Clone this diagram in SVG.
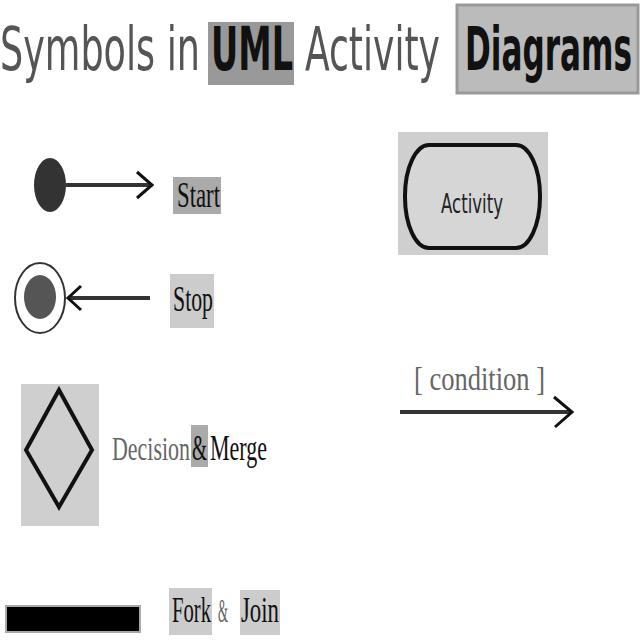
<svg xmlns="http://www.w3.org/2000/svg" width="640" height="640" viewBox="0 0 640 640">
<style>
.title{font-family:"DejaVu Sans Condensed","DejaVu Sans",sans-serif;font-size:60px;fill:#555}
.titleb{font-family:"DejaVu Sans Condensed","DejaVu Sans",sans-serif;font-size:60px;font-weight:bold;fill:#111}
.lbl{font-family:"Liberation Serif",serif;font-size:36px;fill:#111}
.lblg{font-family:"Liberation Serif",serif;font-size:34px;fill:#666}
.hl{fill:#aaa}
.panel{fill:#cfcfcf}
.conn{stroke:#333;stroke-width:4;fill:none}
.head{stroke:#111;stroke-width:3;fill:none}
</style>
<rect width="640" height="640" fill="#fff"/>
<g id="title">
  <text class="title" x="0" y="70" textLength="200" lengthAdjust="spacingAndGlyphs">Symbols in</text>
  <rect x="208" y="22" width="86" height="63" fill="#999"/>
  <text class="titleb" x="211" y="70" textLength="82" lengthAdjust="spacingAndGlyphs">UML</text>
  <text class="title" x="305" y="70" textLength="135" lengthAdjust="spacingAndGlyphs">Activity</text>
  <rect x="457" y="5" width="181" height="88" fill="#bbb" stroke="#999" stroke-width="3"/>
  <text class="titleb" x="465" y="70" textLength="167" lengthAdjust="spacingAndGlyphs">Diagrams</text>
</g>
<g id="start">
  <ellipse cx="50" cy="185" rx="16" ry="27" fill="#333"/>
  <rect x="173" y="177" width="48" height="37" class="hl"/>
  <text class="lbl" x="177" y="207" textLength="43" lengthAdjust="spacingAndGlyphs">Start</text>
</g>
<g id="stop">
  <ellipse cx="40" cy="298" rx="25" ry="35" fill="none" stroke="#333" stroke-width="2"/>
  <ellipse cx="40" cy="297" rx="16" ry="22" fill="#555"/>
  <rect x="170" y="274" width="44" height="54" fill="#ccc"/>
  <text class="lbl" x="173" y="311" textLength="40" lengthAdjust="spacingAndGlyphs">Stop</text>
</g>
<g id="decision">
  <rect x="21" y="384" width="78" height="142" class="panel"/>
  <polygon points="59,390 92,450 59,507 26,450" fill="none" stroke="#111" stroke-width="4"/>
  <text class="lblg" x="112" y="460" textLength="78" lengthAdjust="spacingAndGlyphs">Decision</text>
  <rect x="191" y="425" width="17" height="42" class="hl"/>
  <text class="lbl" x="192" y="460" font-size="34" textLength="15" lengthAdjust="spacingAndGlyphs">&amp;</text>
  <text class="lbl" x="210" y="460" font-size="34" textLength="57" lengthAdjust="spacingAndGlyphs">Merge</text>
</g>
<g id="fork">
  <rect x="6" y="606" width="134" height="26" fill="#000" stroke="#aaa" stroke-width="2"/>
  <rect x="169" y="588" width="43" height="47" fill="#ccc"/>
  <text class="lbl" x="172" y="622" textLength="39" lengthAdjust="spacingAndGlyphs">Fork</text>
  <text class="lblg" x="218" y="622" font-size="26" textLength="10" lengthAdjust="spacingAndGlyphs">&amp;</text>
  <rect x="240" y="590" width="40" height="45" fill="#ccc"/>
  <text class="lbl" x="241" y="622" textLength="38" lengthAdjust="spacingAndGlyphs">Join</text>
</g>
<g id="activity">
  <rect x="398" y="132" width="150" height="123" class="panel"/>
  <rect x="405" y="145" width="135" height="103" rx="24" ry="51" fill="#d6d6d6" stroke="#111" stroke-width="4"/>
  <text x="441" y="213" font-family="DejaVu Sans Condensed, DejaVu Sans, sans-serif" font-size="26" fill="#222" textLength="62" lengthAdjust="spacingAndGlyphs">Activity</text>
</g>
<g id="condition">
  <text class="lblg" x="414" y="390" font-size="32" fill="#444" textLength="131" lengthAdjust="spacingAndGlyphs">[ condition ]</text>
</g>
<g id="connectors">
  <line x1="66" y1="185" x2="151" y2="185" class="conn"/>
  <polyline points="137,172 152,185 137,198" class="head"/>
  <line x1="150" y1="298" x2="69" y2="298" class="conn"/>
  <polyline points="81,286 68,298 81,310" class="head"/>
  <line x1="400" y1="412" x2="570" y2="412" class="conn"/>
  <polyline points="554,397 572,412 555,427" class="head"/>
</g>
</svg>
